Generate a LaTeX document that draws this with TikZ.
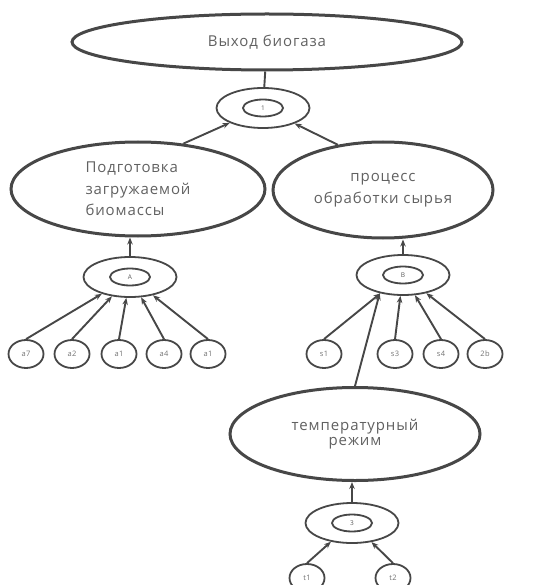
\documentclass[tikz,border=0pt]{standalone}
\usepackage{fontspec}
\setmainfont{Open Sans}[LetterSpace=6]
\usetikzlibrary{shapes,arrows,arrows.meta,positioning}

\begin{document}
\begin{tikzpicture}[
    x=1pt, y=-1pt,
    goal/.style={ellipse, draw=black!72, line width=3pt, text=black!62, font=\fontsize{15}{21.5}\selectfont, inner sep=0pt},
    hub/.style={ellipse, draw=black!72, line width=1.8pt, minimum width=93pt, minimum height=40pt},
    core/.style={ellipse, draw=black!72, line width=1.8pt, minimum width=40pt, minimum height=17pt, inner sep=0pt, font=\fontsize{6.5}{7}\selectfont, text=black!65},
    factor/.style={ellipse, draw=black!72, line width=1.8pt, minimum width=35pt, minimum height=28pt, inner sep=0pt, font=\fontsize{7.5}{8}\selectfont, text=black!55},
    link/.style={draw=black!72, line width=1.9pt},
    arrow/.style={link, -{Stealth[length=7pt,width=5.5pt]}}
]
\useasboundingbox (0,0) rectangle (547,585);

% Main result
\node[goal, minimum width=390pt, minimum height=56pt] (yield) at (267,42) {Выход биогаза};
\node[hub] (hub1) at (263,108) {};
\node[core] (core1) at (hub1) {1};

% Second level
\node[goal, minimum width=254pt, minimum height=94pt, align=left] (prep) at (138,189) {Подготовка\\загружаемой\\биомассы};
\node[goal, minimum width=220pt, minimum height=96pt, align=center] (proc) at (383,190) {процесс\\обработки сырья};

\node[hub] (hubA) at (130,277) {};
\node[core] (coreA) at (hubA) {A};
\node[hub] (hubB) at (403,275) {};
\node[core] (coreB) at (hubB) {B};

% Factors A
\node[factor] (fA1) at (26,354) {a7};
\node[factor] (fA2) at (72,354) {a2};
\node[factor] (fA3) at (119,354) {a1};
\node[factor] (fA4) at (164,354) {a4};
\node[factor] (fA5) at (208,354) {a1};

% Factors B
\node[factor] (fB1) at (324,354) {s1};
\node[factor] (fB2) at (395,354) {s3};
\node[factor] (fB3) at (441,354) {s4};
\node[factor] (fB4) at (485,354) {2b};

% Temperature
\node[goal, minimum width=250pt, minimum height=93pt, align=center, font=\fontsize{15}{15}\selectfont] (temp) at (355,434) {температурный\\режим};
\node[hub] (hub3) at (352,523) {};
\node[core] (core3) at (hub3) {3};
\node[factor] (fT1) at (307,578) {t1};
\node[factor] (fT2) at (393,578) {t2};

% Connections
\draw[link] (hub1) -- (yield);
\draw[arrow] (prep.45) -- (hub1);
\draw[arrow] (proc.135) -- (hub1);
\draw[arrow] (hubA.north) -- (prep.south -| hubA.north);
\draw[arrow] (hubB.north) -- (proc.south -| hubB.north);
\draw[arrow] (hub3.north) -- (temp.south -| hub3.north);

\draw[arrow] (fA1.north) -- (hubA);
\draw[arrow] (fA2.north) -- (hubA);
\draw[arrow] (fA3.north) -- (hubA);
\draw[arrow] (fA4.north) -- (hubA);
\draw[arrow] (fA5.north) -- (hubA);

\draw[arrow] (fB1.north) -- (hubB);
\draw[arrow] (fB2.north) -- (hubB);
\draw[arrow] (fB3.north) -- (hubB);
\draw[arrow] (fB4.north) -- (hubB);
\draw[arrow] (temp.north) -- (hubB.218);

\draw[arrow] (fT1.north) -- (hub3);
\draw[arrow] (fT2.north) -- (hub3);

\end{tikzpicture}
\end{document}
